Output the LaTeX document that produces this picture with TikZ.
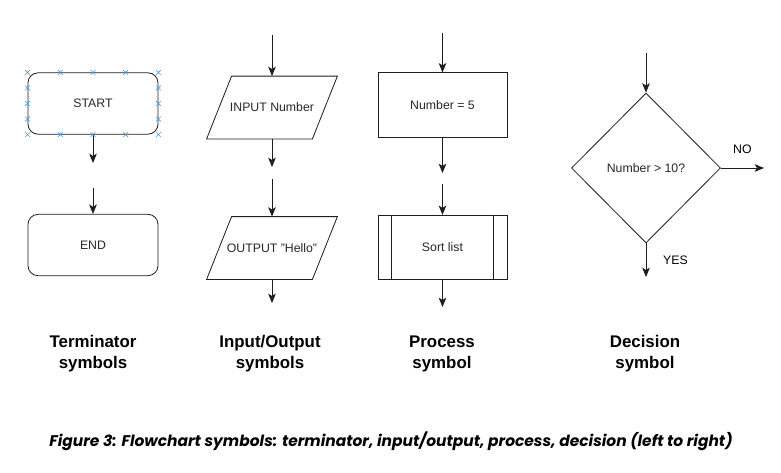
\documentclass[tikz,border=0pt]{standalone}
\usepackage{fontspec}
\setmainfont{Liberation Sans}
\newfontfamily\capfont{Poppins}
\usetikzlibrary{shapes.geometric, shapes.misc, arrows.meta, positioning, calc}

\definecolor{handleblue}{RGB}{70,155,230}
\definecolor{linegray}{RGB}{30,30,30}

\tikzset{
	box/.style={draw=linegray, line width=0.7pt, font=\fontsize{10.5}{12}\selectfont, text=black!85},
	terminator/.style={box, rectangle, rounded corners=0.3cm, minimum width=3.9cm, minimum height=1.84cm},
	io/.style={box, draw=none, rectangle, minimum width=3.9cm, minimum height=1.86cm},
	process/.style={box, rectangle, minimum width=3.87cm, minimum height=1.93cm},
	decision/.style={box, diamond, minimum width=4.47cm, minimum height=4.5cm, inner sep=0pt},
	outline/.style={draw=linegray, line width=0.7pt},
	flow/.style={outline, -{Stealth[length=8pt, width=6.5pt, inset=2pt]}},
	symlabel/.style={align=center, font=\fontsize{14.4}{18}\selectfont\bfseries},
	handle/.style={cross out, draw=handleblue, line width=0.5pt, minimum size=3.5pt, inner sep=0pt},
}

\begin{document}
\begin{tikzpicture}[x=0.03cm, y=-0.03cm]
	\useasboundingbox (0,0) rectangle (781,472);

	% terminator column
	\node[terminator]	(start)	at (93,103.5)	{START};
	\node[terminator]	(end)	at (93,245)		{END};
	\coordinate (startout)	at (93,163);
	\coordinate (endin)		at (93,188);
	\draw[flow] (start) -- (startout);
	\draw[flow] (endin) -- (end);

	\foreach \p in {0,0.25,0.5,0.75,1} {
		\node[handle] at ($(start.north west)!\p!(start.north east)$) {};
		\node[handle] at ($(start.south west)!\p!(start.south east)$) {};
	}
	\foreach \p in {0.25,0.5,0.75} {
		\node[handle] at ($(start.north west)!\p!(start.south west)$) {};
		\node[handle] at ($(start.north east)!\p!(start.south east)$) {};
	}

	% input/output column
	\node[io]	(input)		at (272,107.5)	{INPUT Number};
	\node[io]	(output)	at (272,248)	{OUTPUT "Hello"};
	\foreach \n in {input, output}
		\draw[outline] ($(\n.north west)+(25,0)$) -- (\n.north east)
			-- ($(\n.south east)-(25,0)$) -- (\n.south west) -- cycle;
	\coordinate (inin)		at (272,35);
	\coordinate (inout)		at (272,167);
	\coordinate (outin)		at (272,179);
	\coordinate (outout)	at (272,303);
	\draw[flow] (inin) -- (input);
	\draw[flow] (input) -- (inout);
	\draw[flow] (outin) -- (output);
	\draw[flow] (output) -- (outout);

	% process column
	\node[process]	(proc)	at (442.5,105)		{Number = 5};
	\node[process]	(sort)	at (442.5,247.5)	{Sort list};
	\draw[outline] ([xshift=0.42cm]sort.north west) -- ([xshift=0.42cm]sort.south west);
	\draw[outline] ([xshift=-0.42cm]sort.north east) -- ([xshift=-0.42cm]sort.south east);
	\coordinate (procin)	at (442.5,33);
	\coordinate (procout)	at (442.5,173);
	\coordinate (sortin)	at (442.5,184);
	\coordinate (sortout)	at (442.5,307);
	\draw[flow] (procin) -- (proc);
	\draw[flow] (proc) -- (procout);
	\draw[flow] (sortin) -- (sort);
	\draw[flow] (sort) -- (sortout);

	% decision column
	\node[decision]	(dec)	at (646,168)	{Number > 10?};
	\coordinate (decin)		at (646,53);
	\coordinate (noout)		at (764,168);
	\coordinate (yesout)	at (646,277);
	\draw[flow] (decin) -- (dec);
	\draw[flow] (dec) -- node[midway, above=9pt, font=\fontsize{10.5}{12}\selectfont] {NO} (noout);
	\draw[flow] (dec) -- node[midway, right=11pt, font=\fontsize{10.5}{12}\selectfont] {YES} (yesout);

	% labels
	\node[symlabel] (termlbl)	at (93,353.5)	{Terminator\\symbols};
	\node[symlabel] (iolbl)		at (270,353.5)	{Input/Output\\symbols};
	\node[symlabel] (proclbl)	at (442,353.5)	{Process\\symbol};
	\node[symlabel] (declbl)	at (645,353.5)	{Decision\\symbol};

	\node[font=\capfont\fontsize{13.2}{15}\selectfont\bfseries\itshape] (fig) at (391,441)
		{Figure 3: Flowchart symbols: terminator, input/output, process, decision (left to right)};
\end{tikzpicture}
\end{document}
